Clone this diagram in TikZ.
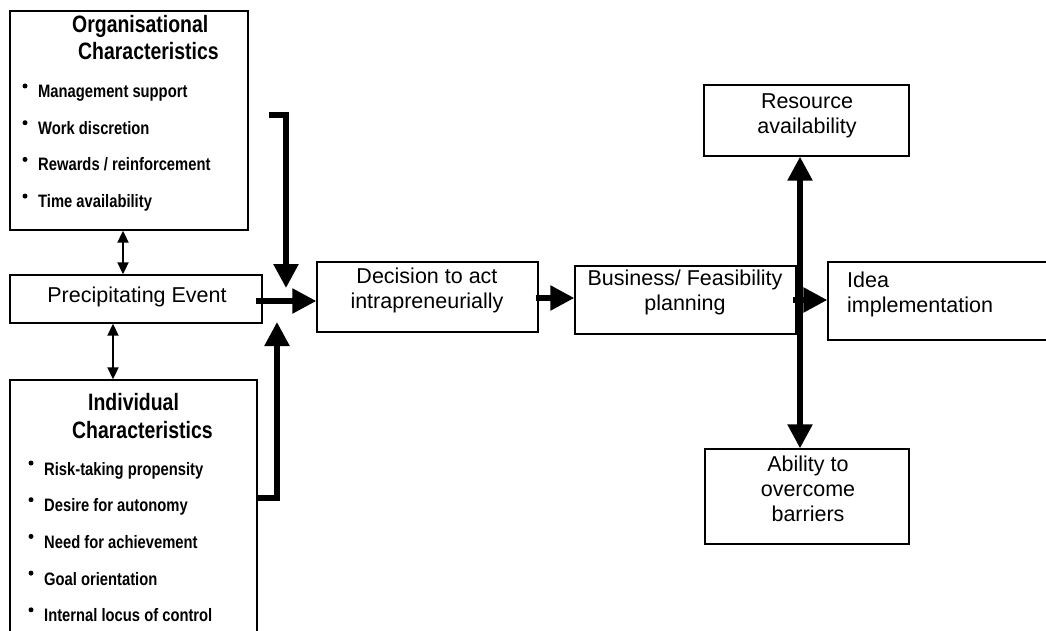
\documentclass[tikz,border=0pt]{standalone}
\usepackage{fontspec}
\setmainfont{Liberation Sans}
\newfontfamily\narrowfont[FakeStretch=0.82]{Liberation Sans}
\usetikzlibrary{arrows.meta,fit}

\begin{document}
\begin{tikzpicture}[x=1pt,y=-1pt,
  box/.style={draw, line width=1.4pt, inner sep=0pt},
  txt/.style={inner sep=0pt, align=center, anchor=base, font=\fontsize{21.5}{25}\selectfont},
  lefttxt/.style={txt, align=left, anchor=base west},
  head/.style={inner sep=0pt, anchor=base west, font=\narrowfont\bfseries\fontsize{23.7}{27}\selectfont},
  item/.style={inner sep=0pt, anchor=base west, font=\narrowfont\bfseries\fontsize{18}{20}\selectfont},
  flow/.style={line width=5.5pt, line join=miter, -{Triangle[length=24pt,width=24pt]}},
  bothflow/.style={line width=5.5pt, {Triangle[length=24pt,width=24pt]}-{Triangle[length=24pt,width=24pt]}},
  link/.style={line width=2pt, {Triangle[length=12pt,width=11pt]}-{Triangle[length=12pt,width=11pt]}},
]
\useasboundingbox (0,0) rectangle (1046,631);
\clip (0,0) rectangle (1046,631);

% ---- boxes ----
\node[box, fit={(10,11) (248,230)}] (org) {};
\node[box, fit={(10,275) (262,323)}] (precip) {};
\node[box, fit={(10,380) (257,660)}] (indiv) {};
\node[box, fit={(317,262) (538,332)}] (decision) {};
\node[box, fit={(575,266) (796,334)}] (business) {};
\node[box, fit={(828,262) (1070,340)}] (idea) {};
\node[box, fit={(704,85) (909,156)}] (resource) {};
\node[box, fit={(705,449) (909,544)}] (ability) {};

% ---- organisational characteristics ----
\node[head] (orgt1) at (72,33) {Organisational};
\node[head] (orgt2) at (78,60) {Characteristics};
\foreach \t [count=\i] in {Management support, Work discretion,
    Rewards / reinforcement, Time availability} {
  \node[item] (org-\i) at (38,{97.5+36.7*(\i-1)}) {\t};
  \fill (25,{86+36.7*(\i-1)}) circle (2.5);
}

% ---- individual characteristics ----
\node[head] (indt1) at (88,410) {Individual};
\node[head] (indt2) at (72,438) {Characteristics};
\foreach \t [count=\i] in {Risk-taking propensity, Desire for autonomy,
    Need for achievement, Goal orientation, Internal locus of control} {
  \node[item] (ind-\i) at (44,{475+36.7*(\i-1)}) {\t};
  \fill (31,{463+36.7*(\i-1)}) circle (2.5);
}

% ---- other labels (anchored at the baseline of the last line) ----
\node[txt] (precipt) at (137,302) {Precipitating Event};
\node[txt] (decisiont) at (427,308) {Decision to act\\intrapreneurially};
\node[txt] (businesst) at (685,310) {Business/ Feasibility\\planning};
\node[lefttxt] (ideat) at (847,312) {Idea\\implementation};
\node[txt] (resourcet) at (807,134) {Resource\\availability};
\node[txt] (abilityt) at (808,521) {Ability to\\overcome\\barriers};

% ---- connectors ----
\coordinate (linkA) at (123,0);
\coordinate (linkB) at (113,0);
\draw[link] (org.south -| linkA) -- (precip.north -| linkA);
\draw[link] (precip.south -| linkB) -- (indiv.north -| linkB);

\coordinate (orgout) at (269,115);
\coordinate (topin) at (286,288);
\draw[flow] (orgout) -| (topin);

\coordinate (indout) at (indiv.east |- 0,498);
\coordinate (botin) at (277,322);
\draw[flow] (indout) -| (botin);

\coordinate (pe) at ([xshift=-7pt,yshift=-2pt]precip.east);
\draw[flow] (pe) -- (pe -| decision.west);

\coordinate (de) at ([xshift=-3pt,yshift=-1pt]decision.east);
\draw[flow] (de) -- (de -| business.west);

\coordinate (be) at ([xshift=-4pt]business.east);
\draw[flow] (be) -- (be -| idea.west);

\coordinate (vx) at (800,0);
\draw[bothflow] (resource.south -| vx) -- (ability.north -| vx);
\end{tikzpicture}
\end{document}
